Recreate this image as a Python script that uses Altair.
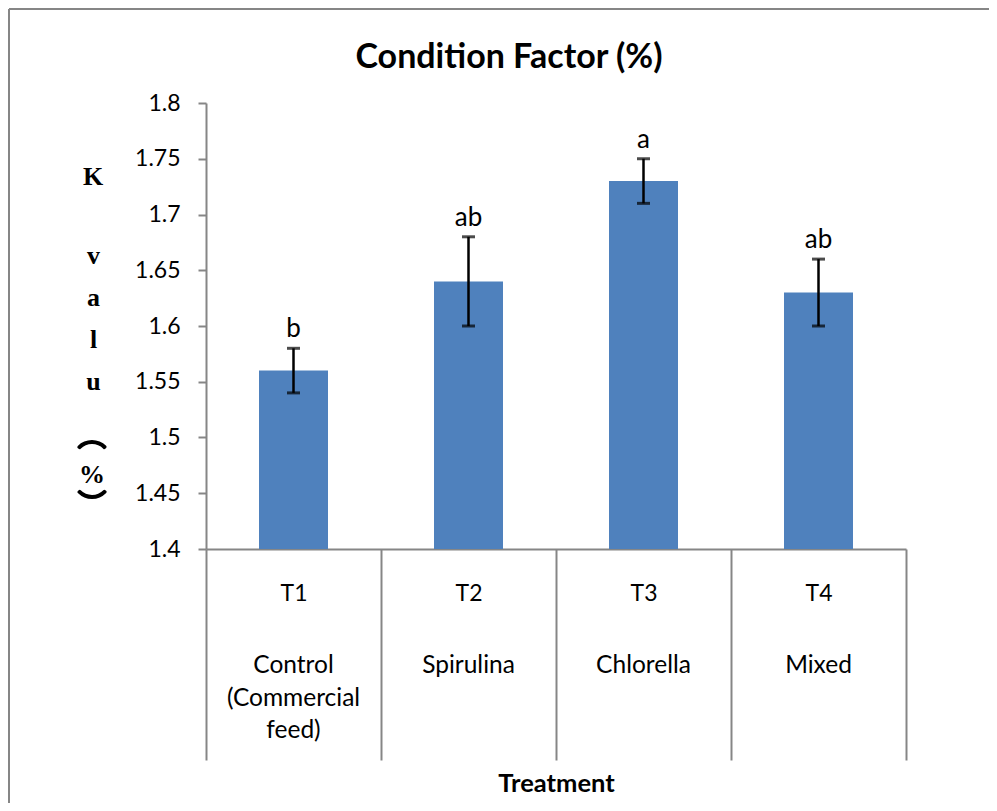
import altair as alt
import pandas as pd

# ---- data ----
treatments = ["T1", "T2", "T3", "T4"]
names = ["Control\n(Commercial\nfeed)", "Spirulina", "Chlorella", "Mixed"]
k_values = [1.56, 1.64, 1.73, 1.63]
err_low = [1.54, 1.60, 1.71, 1.60]
err_high = [1.58, 1.68, 1.75, 1.66]
letters = ["b", "ab", "a", "ab"]
y_ticks = [1.4, 1.45, 1.5, 1.55, 1.6, 1.65, 1.7, 1.75, 1.8]
chart_title = "Condition Factor (%)"
y_title_head = "K"
y_title_lines = ["v", "a", "l", "u"]

df = pd.DataFrame({
    "Treatment": treatments,
    "Name": names,
    "K": k_values,
    "low": err_low,
    "high": err_high,
    "letter": letters,
})

GRAY = "#868686"
BLUE = "#4F81BD"
FONT = "Lato"
SERIF = "Liberation Serif"

W, H = 700, 446

xenc = alt.X(
    "Treatment:N",
    sort=treatments,
    scale=alt.Scale(paddingInner=0, paddingOuter=0),
    axis=alt.Axis(
        title="Treatment",
        titleFont=FONT, titleFontSize=25.5, titleFontWeight="bold", titleColor="black",
        titleY=242, titleBaseline="alphabetic",
        labelAngle=0, labelFont=FONT, labelFontSize=23, labelColor="black",
        labelBaseline="alphabetic", labelPadding=-160,
        tickBand="extent", tickSize=211, tickColor=GRAY, tickWidth=2,
        domainColor=GRAY, domainWidth=2,
    ),
)

yscale = alt.Scale(domain=[1.4, 1.8], zero=False, nice=False)

base = alt.Chart(df)

bars = base.mark_bar(color=BLUE, size=69).encode(
    x=xenc,
    y=alt.Y(
        "K:Q",
        scale=yscale,
        axis=alt.Axis(
            values=y_ticks, format="~g", grid=False,
            labelFont=FONT, labelFontSize=23, labelColor="black", labelPadding=18,
            tickSize=8, tickColor=GRAY, tickWidth=2,
            domainColor=GRAY, domainWidth=2,
            title=y_title_lines,
            titleAngle=0, titleFont=SERIF, titleFontSize=26,
            titleFontWeight="bold", titleColor="black",
            titleLineHeight=42, titleAlign="center", titleBaseline="alphabetic",
            titleX=-113, titleY=160,
        ),
    ),
    y2=alt.datum(1.4),
)

err_line = base.mark_rule(color="black", strokeWidth=2.5).encode(
    x=alt.X("Treatment:N", sort=treatments),
    y=alt.Y("low:Q", scale=yscale),
    y2="high:Q",
)

cap_low = base.mark_tick(color="black", size=13, thickness=3).encode(
    x=alt.X("Treatment:N", sort=treatments),
    y=alt.Y("low:Q", scale=yscale),
)
cap_high = base.mark_tick(color="black", size=13, thickness=3).encode(
    x=alt.X("Treatment:N", sort=treatments),
    y=alt.Y("high:Q", scale=yscale),
)

sig = base.mark_text(font=FONT, fontSize=26, baseline="alphabetic", dy=-11, color="black").encode(
    x=alt.X("Treatment:N", sort=treatments),
    y=alt.Y("high:Q", scale=yscale),
    text="letter:N",
)

name_txt = base.mark_text(
    font=FONT, fontSize=24.5, baseline="alphabetic", lineBreak="\n", lineHeight=32.5, color="black"
).encode(
    x=alt.X("Treatment:N", sort=treatments),
    y=alt.value(570),
    text="Name:N",
)

# chart title
title_txt = alt.Chart(pd.DataFrame({"t": [chart_title]})).mark_text(
    font=FONT, fontSize=34, fontWeight="bold", baseline="alphabetic", color="black"
).encode(x=alt.value(303), y=alt.value(-35), text="t:N")

# "K", percent sign and the sideways parentheses of the stacked y title
k_txt = alt.Chart(pd.DataFrame({"t": [y_title_head]})).mark_text(
    font=SERIF, fontSize=26, fontWeight="bold", baseline="alphabetic", color="black"
).encode(x=alt.value(-113), y=alt.value(82), text="t:N")
one = pd.DataFrame({"t": ["%"]})
pct = alt.Chart(one).mark_text(
    font=SERIF, fontSize=26, fontWeight="bold", baseline="alphabetic", color="black"
).encode(x=alt.value(-114), y=alt.value(380), text="t:N")
lpar = alt.Chart(one).mark_arc(
    color="black", radius=20, radius2=16, theta=5.41, theta2=7.15, cornerRadius=1.5
).encode(x=alt.value(-114), y=alt.value(357))
rpar = alt.Chart(one).mark_arc(
    color="black", radius=20, radius2=16, theta=2.27, theta2=4.01, cornerRadius=1.5
).encode(x=alt.value(-114), y=alt.value(376))

# outer chart border (top and left edges visible)
border_top = alt.Chart(one).mark_rule(color=GRAY, strokeWidth=2).encode(
    x=alt.value(-197), x2=alt.value(800), y=alt.value(-94)
)
border_left = alt.Chart(one).mark_rule(color=GRAY, strokeWidth=2).encode(
    x=alt.value(-197), y=alt.value(-94), y2=alt.value(720)
)

chart = alt.layer(
    bars, err_line, cap_low, cap_high, sig, name_txt, title_txt, k_txt, pct, lpar, rpar,
    border_top, border_left,
).properties(
    width=W,
    height=H,
    autosize=alt.AutoSizeParams(type="none"),
    padding={"left": 198, "top": 95, "right": 83, "bottom": 254},
).configure(background="white").configure_view(stroke=None)

chart.save("out.html", embed_options={"renderer": "svg", "actions": False})
